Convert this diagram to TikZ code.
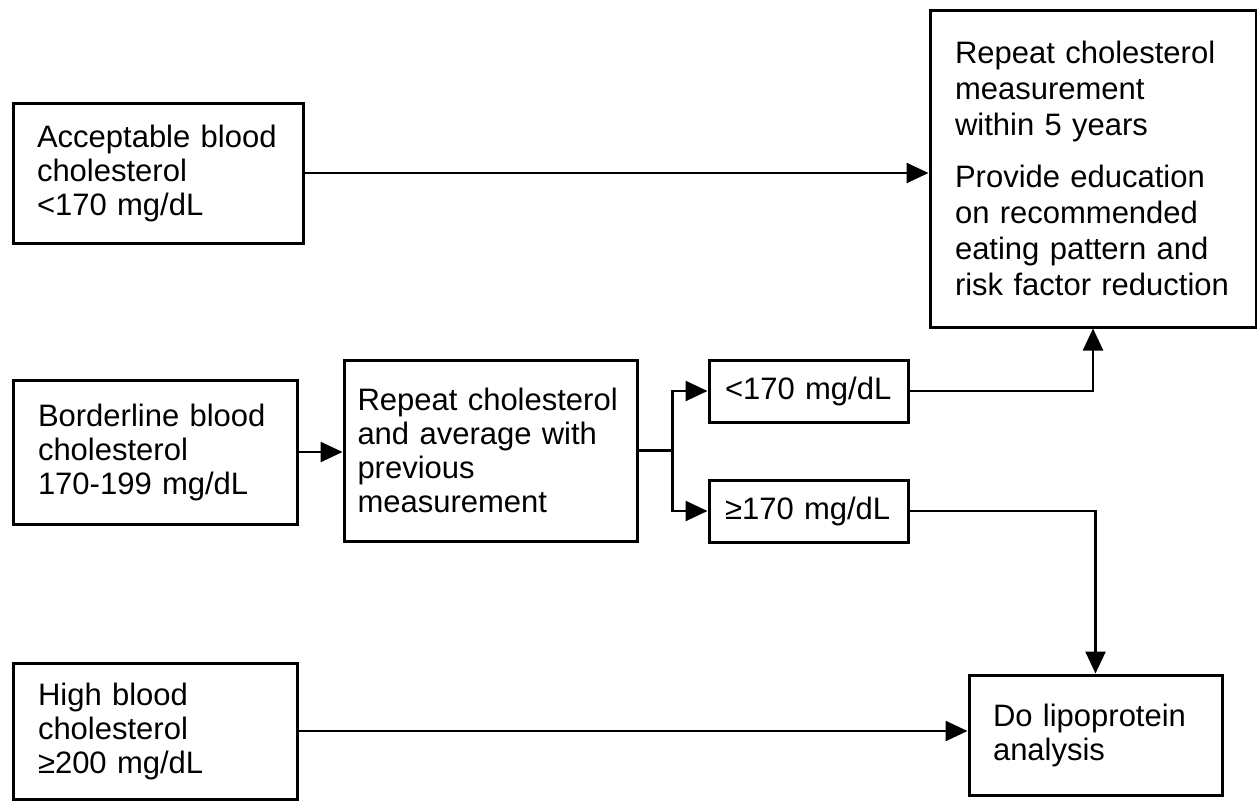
\documentclass[tikz,border=0pt]{standalone}
\usepackage{fontspec}
\setmainfont{Liberation Sans}
\usetikzlibrary{arrows.meta}
\hyphenpenalty=10000

\begin{document}
\begin{tikzpicture}[x = 1pt, y = -1pt, thick]
\tikzstyle{box} = [draw, line width = 3pt, align = left, inner ysep = 0pt, font = \fontsize{31}{34}\selectfont]
\tikzstyle{arr} = [line width = 2.5pt, -{Triangle[length = 22pt, width = 20pt]}]
\useasboundingbox (0, 0) rectangle (1257, 803);
\node[box] (L-1) at (158, 173) [minimum height = 140pt, text width = 242pt, inner xsep = 24pt] {Acceptable blood\\cholesterol\\<170 mg/dL};
\node[box] (L-2) at (155, 452) [minimum height = 144pt, text width = 234pt, inner xsep = 25pt] {Borderline blood\\cholesterol\\170-199 mg/dL};
\node[box] (L-3) at (155, 731) [minimum height = 136pt, text width = 234pt, inner xsep = 25pt] {High blood\\cholesterol\\≥200 mg/dL};
\node[box] (M-1) at (490.5, 450.5) [minimum height = 181pt, text width = 266pt, inner xsep = 13.5pt] {Repeat cholesterol\\and average with\\previous\\measurement};
\node[box] (R-1) at (808.5, 391) [minimum height = 62pt, text width = 167pt, inner xsep = 16pt] {<170 mg/dL};
\node[box] (R-2) at (808.5, 511) [minimum height = 62pt, text width = 167pt, inner xsep = 16pt] {≥170 mg/dL};
\node[box] (T-1) at (1093, 168.5) [minimum height = 317pt, text width = 276pt, inner xsep = 25pt, font = \fontsize{31}{36}\selectfont] {Repeat cholesterol\\measurement\\within 5 years\\[16pt]Provide education\\on recommended\\eating pattern and\\risk factor reduction};
\node[box] (T-2) at (1095.5, 735) [minimum height = 120pt, text width = 205pt, inner xsep = 24pt] {Do lipoprotein\\analysis};
\draw[arr] (L-1.east) -- (L-1.east -| T-1.west);
\draw[arr] (L-2.east) -- (L-2.east -| M-1.west);
\draw[line width = 2.5pt] (M-1.east) -- ++(34, 0) coordinate (S);
\draw[arr] (S) |- (R-1.west);
\draw[arr] (S) |- (R-2.west);
\draw[arr] (R-1.east) -| (T-1.south);
\draw[arr] (R-2.east) -| (T-2.north);
\draw[arr] (L-3.east) -- (L-3.east -| T-2.west);
\end{tikzpicture}
\end{document}
